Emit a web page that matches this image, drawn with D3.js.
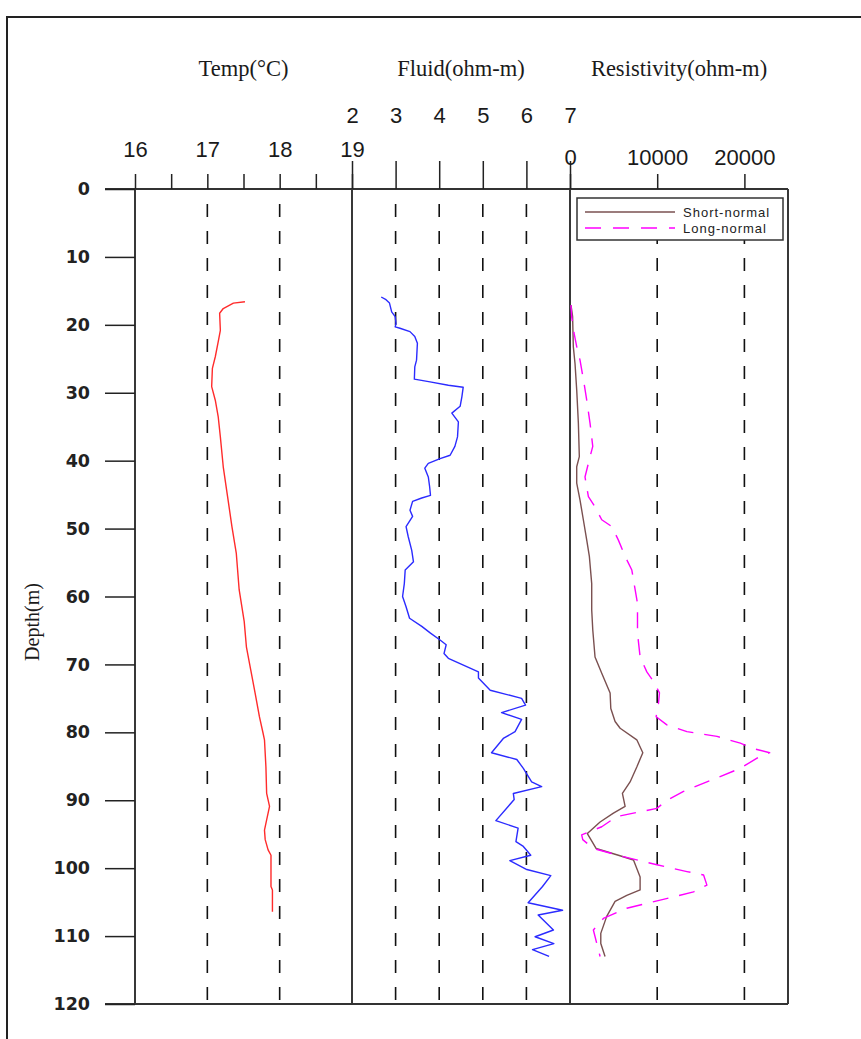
<!DOCTYPE html>
<html><head><meta charset="utf-8">
<script src="https://cdn.jsdelivr.net/npm/d3@7"></script>
<style>body{margin:0;background:#fff}svg{display:block}</style>
</head><body>
<svg id="c" width="861" height="1039"></svg>
<script>
// ---- data ----
const depthTicks = [0,10,20,30,40,50,60,70,80,90,100,110,120];
const tempTicks = [16,16.5,17,17.5,18,18.5,19];
const tempLabels = [16,17,18,19];
const fluidTicks = [2,3,4,5,6,7];
const resTicks = [0,10000,20000];
const tempGrid = [17,18];
const fluidGrid = [3,4,5,6];
const resGrid = [10000,20000];

const depthTemp = [16.6,16.8,17.6,18.3,20.8,22.5,24.7,26.4,29.1,31.1,33.5,36.5,40.9,45.3,49.7,53.6,59.0,63.7,67.4,70.8,74.2,77.7,80.1,81.1,85.1,89.0,90.9,92.9,94.4,95.8,97.3,98.1,102.7,103.2,106.4];
const temp = [17.52,17.36,17.22,17.17,17.18,17.15,17.11,17.07,17.06,17.11,17.15,17.18,17.22,17.28,17.34,17.40,17.44,17.51,17.54,17.60,17.66,17.72,17.77,17.79,17.81,17.82,17.86,17.82,17.79,17.80,17.84,17.88,17.88,17.90,17.90];

const depthFluid = [15.9,16.3,16.8,18.1,18.8,19.8,20.3,20.5,21.0,21.7,22.7,25.2,26.2,28.0,28.4,28.9,29.2,30.6,32.0,33.0,34.3,36.5,37.9,39.2,39.7,40.4,41.1,42.4,43.8,45.1,45.5,46.0,47.3,48.2,49.7,51.2,53.2,54.9,56.1,58.1,60.0,61.5,63.2,64.4,65.4,66.4,67.1,68.4,69.1,71.1,72.0,73.8,75.0,76.0,77.1,78.1,79.9,80.9,83.0,84.0,85.3,87.3,88.0,89.0,89.9,93.0,94.1,96.1,96.8,98.1,98.9,100.2,101.1,102.7,105.1,106.2,106.9,109.1,110.1,111.1,112.0,113.0];
const fluid = [2.67,2.78,2.86,2.91,2.99,3.01,2.99,3.10,3.33,3.44,3.50,3.48,3.44,3.43,3.79,4.21,4.55,4.52,4.48,4.29,4.44,4.42,4.36,4.25,4.02,3.75,3.67,3.75,3.78,3.80,3.60,3.39,3.33,3.39,3.24,3.29,3.37,3.41,3.22,3.20,3.16,3.24,3.32,3.60,3.80,4.02,4.16,4.11,4.21,4.90,4.90,5.17,5.89,5.98,5.43,5.89,5.74,5.47,5.20,5.78,5.93,6.12,6.35,5.70,5.72,5.30,5.81,5.76,5.93,6.10,5.62,6.01,6.56,6.37,6.04,6.83,6.27,6.62,6.20,6.63,6.14,6.52];

const depthShort = [17.1,18.8,23.2,25.7,29.6,34.5,39.4,40.9,43.3,45.8,48.7,51.7,54.1,58.1,62.0,64.9,68.9,71.3,74.2,76.5,78.4,79.4,81.1,83.0,85.1,87.3,89.0,90.9,91.9,93.2,94.9,97.1,98.1,98.8,101.3,103.2,104.0,104.9,107.1,109.6,111.1,113.0];
const shortNormal = [115,300,380,575,770,960,1070,770,770,1150,1530,1920,2220,2490,2490,2610,2870,3640,4600,4680,5170,5750,7660,8350,7660,6890,6010,6320,4980,3450,1990,2990,5550,7280,8040,8040,6510,5170,4210,3530,3530,4020];

const depthLong = [17.1,18.8,21.2,23.2,25.2,28.6,31.1,34.5,37.9,39.4,42.4,45.3,46.8,48.7,49.7,51.7,54.1,56.1,59.0,61.0,65.4,68.9,71.1,72.5,74.2,75.7,77.7,78.9,79.9,80.6,81.6,82.4,83.0,83.8,85.3,87.3,88.7,90.0,91.2,91.7,92.4,93.9,95.1,95.8,97.1,98.3,99.5,100.5,101.0,102.5,103.5,104.7,105.9,107.4,109.1,111.1,113.0];
const longNormal = [115,190,460,770,1150,1610,1920,2300,2610,2300,1720,2110,2870,3640,4790,5550,6320,7090,7470,7740,7740,8040,8810,9580,10260,10150,9880,11110,13410,16860,19530,21060,22900,21450,19530,15700,13020,11110,9960,8040,5360,3640,1340,1460,2680,6120,9960,13410,15320,15700,14170,10340,6510,3830,2680,3070,3450];

const titles = ["Temp(°C)","Fluid(ohm-m)","Resistivity(ohm-m)"];
const seriesNames = ["Short-normal","Long-normal"];

(function(){
// ---- layout ----
const svg = d3.select("#c");
const pTop = 189, pBottom = 1004, pLeft = 135, mid1 = 352, mid2 = 570, pRight = 788;
const y = d3.scaleLinear().domain([0,120]).range([pTop,pBottom]);
const xT = d3.scaleLinear().domain([16,19]).range([pLeft,mid1]);
const xF = d3.scaleLinear().domain([2,7]).range([mid1,mid2]);
const xR = d3.scaleLinear().domain([0,25000]).range([mid2,pRight]);
const ink = "#1a1a1a";

// outer frame
svg.append("path").attr("d","M7,1039V17H861").attr("fill","none").attr("stroke","#222").attr("stroke-width",2);

// dashed grid
function grid(vals, sc){
  svg.append("g").selectAll("line").data(vals).join("line")
    .attr("x1",d=>sc(d)).attr("x2",d=>sc(d)).attr("y1",pTop).attr("y2",pBottom)
    .attr("stroke","#111").attr("stroke-width",1.6)
    .attr("stroke-dasharray","13,14").attr("stroke-dashoffset",12);
}
grid(tempGrid,xT); grid(fluidGrid,xF); grid(resGrid,xR);

// solid separators and frame
svg.append("g").selectAll("line").data([pLeft,mid1,mid2,pRight]).join("line")
  .attr("x1",d=>d).attr("x2",d=>d).attr("y1",pTop).attr("y2",pBottom)
  .attr("stroke","#222").attr("stroke-width",1.8);
svg.append("line").attr("x1",105).attr("x2",pRight).attr("y1",pTop).attr("y2",pTop).attr("stroke","#333").attr("stroke-width",1.8);
svg.append("line").attr("x1",105).attr("x2",pRight).attr("y1",pBottom).attr("y2",pBottom).attr("stroke","#333").attr("stroke-width",1.8);

function styleAxis(g, fs){
  g.select(".domain").remove();
  g.selectAll(".tick line").attr("stroke","#222").attr("stroke-width",1.5);
  g.selectAll("text").attr("font-family","'Liberation Sans', Arial, sans-serif").attr("font-size",fs).attr("fill",ink);
}

// depth axis
const gy = svg.append("g").attr("transform",`translate(${pLeft},0)`)
  .call(d3.axisLeft(y).tickValues(depthTicks).tickSize(30).tickPadding(15));
styleAxis(gy,17);
gy.selectAll("text").attr("font-family","'DejaVu Sans', sans-serif").attr("font-weight","bold").attr("font-size",17.5).attr("fill","#222");

// temp axis
const gt = svg.append("g").attr("transform",`translate(0,${pTop})`)
  .call(d3.axisTop(xT).tickValues(tempTicks).tickSize(15).tickPadding(17)
    .tickFormat(d=>tempLabels.includes(d)?String(d):""));
styleAxis(gt,22);

// fluid axis
const gf = svg.append("g").attr("transform",`translate(0,${pTop})`)
  .call(d3.axisTop(xF).tickValues(fluidTicks).tickSize(28).tickPadding(38).tickFormat(d3.format("d")));
styleAxis(gf,22);

// resistivity axis
const gr = svg.append("g").attr("transform",`translate(0,${pTop})`)
  .call(d3.axisTop(xR).tickValues(resTicks).tickSize(15).tickPadding(9).tickFormat(d3.format("d")));
styleAxis(gr,22);

// titles
svg.append("g").selectAll("text").data(titles).join("text")
  .attr("x",(d,i)=>[ (pLeft+mid1)/2, (mid1+mid2)/2, (mid2+pRight)/2 ][i])
  .attr("y",76).attr("text-anchor","middle")
  .attr("font-family","'Liberation Serif','Times New Roman',serif").attr("font-size",22.5).attr("fill",ink)
  .text(d=>d);
svg.append("text").attr("transform","translate(39,622) rotate(-90)").attr("text-anchor","middle")
  .attr("font-family","'Liberation Serif','Times New Roman',serif").attr("font-size",20).attr("fill",ink)
  .text("Depth(m)");

// series
function series(depths, vals, sc, color, dash){
  const data = depths.map((d,i)=>[vals[i],d]);
  const p = svg.append("path").datum(data)
    .attr("d", d3.line().x(d=>sc(d[0])).y(d=>y(d[1])))
    .attr("fill","none").attr("stroke",color).attr("stroke-width",1.4).attr("stroke-linejoin","round");
  if(dash) p.attr("stroke-dasharray",dash);
}
series(depthTemp, temp, xT, "#ff2b2b");
series(depthFluid, fluid, xF, "#2b2bff");
series(depthShort, shortNormal, xR, "#7a5050");
series(depthLong, longNormal, xR, "#ff00ff", "16,11");

// legend
const lg = svg.append("g");
lg.append("rect").attr("x",577).attr("y",198).attr("width",206).attr("height",42)
  .attr("fill","#fff").attr("stroke","#333").attr("stroke-width",1.5);
const legColors = ["#7a5050","#ff00ff"];
const legDash = [null,"16,12"];
seriesNames.forEach((n,i)=>{
  const yy = 212 + i*16;
  const l = lg.append("line").attr("x1",585).attr("x2",675).attr("y1",yy).attr("y2",yy)
    .attr("stroke",legColors[i]).attr("stroke-width",1.3);
  if(legDash[i]) l.attr("stroke-dasharray",legDash[i]);
  lg.append("text").attr("x",683).attr("y",yy+4.5)
    .attr("font-family","'Liberation Sans', Arial, sans-serif").attr("font-size",13)
    .attr("letter-spacing",1).attr("fill","#222").text(n);
});
})();
</script>
</body></html>
